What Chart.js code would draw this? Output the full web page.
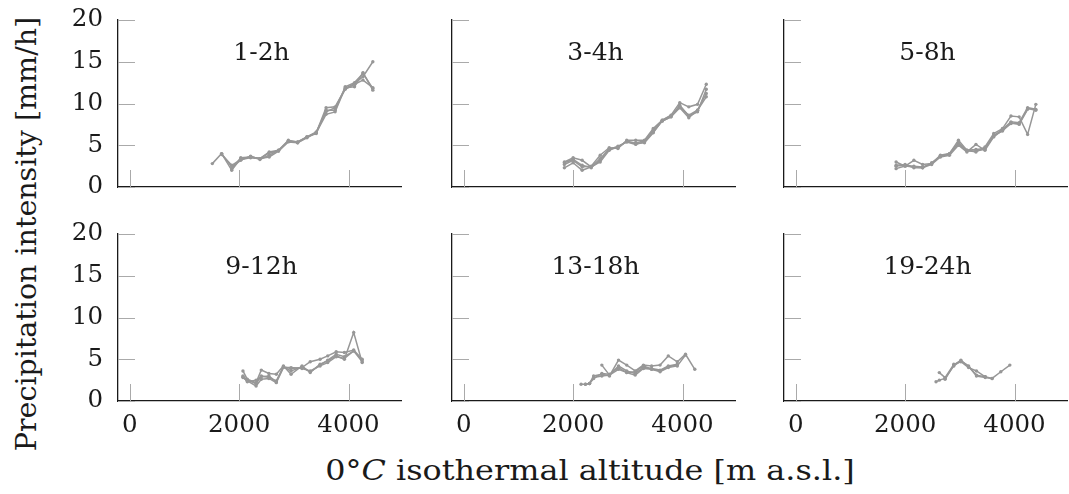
<!DOCTYPE html>
<html>
<head>
<meta charset="utf-8">
<script src="https://cdn.jsdelivr.net/npm/chart.js@4.4.1/dist/chart.umd.min.js"></script>
<style>
  html, body { margin: 0; padding: 0; background: #fff; }
  #wrap { position: relative; width: 1069px; height: 494px; overflow: hidden; font-family: "DejaVu Serif", serif; color: #1a1a1a; }
  #wrap canvas { position: absolute; }
  .axis-title { position: absolute; white-space: nowrap; line-height: 1; }
  #ytitle { font-size: 28.5px; left: 27px; top: 234px; transform: translate(-50%, -50%) rotate(-90deg); }
  #xtitle { font-size: 27px; left: 590px; top: 470px; transform: translate(-50%, -50%) scaleX(1.18); }
</style>
</head>
<body>
<div id="wrap">
  <div class="axis-title" id="ytitle">Precipitation intensity [mm/h]</div>
  <div class="axis-title" id="xtitle">0°<i>C</i> isothermal altitude [m a.s.l.]</div>
</div>
<script>
const panelNames = ["1-2h", "3-4h", "5-8h", "9-12h", "13-18h", "19-24h"];
const xTickValues = [0, 2000, 4000];
const yTickValues = [0, 5, 10, 15, 20];

// 1-2h
const alt12 = [1510, 1680, 1865, 2030, 2210, 2380, 2550, 2720, 2900, 3070, 3240, 3410, 3590, 3755, 3940, 4110, 4265, 4445];
const p12a = [2.8, 4.0, 2.0, 3.4, 3.6, 3.4, 3.6, 4.3, 5.5, 5.3, 5.9, 6.5, 8.7, 9.0, 11.9, 12.0, 13.7, 11.6];
const p12b = [null, 4.0, 2.4, 3.2, 3.7, 3.3, 3.8, 4.4, 5.5, 5.4, 6.0, 6.5, 9.5, 9.6, 11.8, 12.4, 13.2, 15.0];
const p12c = [null, 3.9, 2.6, 3.3, 3.5, 3.4, 4.1, 4.3, 5.4, 5.3, 6.0, 6.4, 9.2, 9.2, 12.0, 12.5, 13.6, 11.8];
const p12d = [null, null, 2.2, 3.5, 3.6, 3.4, 4.2, 4.4, 5.6, 5.4, 6.0, 6.6, 9.0, 9.5, 11.7, 12.3, 12.8, 11.9];

// 3-4h
const alt34 = [1840, 2000, 2165, 2330, 2495, 2660, 2820, 2980, 3145, 3305, 3465, 3630, 3790, 3950, 4115, 4275, 4435];
const p34a = [3.0, 3.5, 3.2, 2.4, 3.0, 4.4, 4.8, 5.4, 5.1, 5.4, 6.6, 7.9, 8.4, 9.5, 8.3, 9.2, 10.8];
const p34b = [2.7, 3.2, 2.4, 2.5, 3.8, 4.7, 4.6, 5.6, 5.6, 5.6, 7.0, 8.0, 8.6, 10.1, 9.6, 9.9, 12.3];
const p34c = [2.3, 2.9, 2.0, 2.4, 3.4, 4.5, 4.9, 5.4, 5.3, 5.5, 6.8, 7.9, 8.4, 9.8, 8.5, 9.0, 11.7];
const p34d = [2.9, 3.3, 2.6, 2.3, 3.2, 4.6, 4.7, 5.5, 5.2, 5.3, 6.5, 8.0, 8.5, 9.6, 8.6, 9.2, 11.2];

// 5-8h
const alt58 = [1835, 2000, 2160, 2320, 2485, 2645, 2810, 2975, 3130, 3295, 3460, 3620, 3780, 3935, 4085, 4240, 4390];
const p58a = [3.0, 2.5, 3.2, 2.7, 2.8, 3.8, 4.0, 5.6, 4.4, 4.2, 4.8, 6.4, 7.0, 8.5, 8.4, 6.3, 9.9];
const p58b = [2.6, 2.7, 2.3, 2.3, 2.7, 3.6, 3.8, 5.0, 4.2, 5.1, 4.4, 6.0, 6.8, 7.6, 7.6, 9.4, 9.2];
const p58c = [2.2, 2.5, 2.4, 2.3, 2.9, 3.7, 3.9, 5.2, 4.3, 4.3, 4.5, 6.2, 6.7, 7.7, 7.5, 9.3, null];
const p58d = [2.5, 2.6, 2.5, 2.4, 2.8, 3.7, 4.0, 5.3, 4.4, 4.5, 4.6, 6.1, 6.9, 7.8, 7.7, 9.5, 9.3];

// 9-12h
const alt912 = [2070, 2150, 2310, 2405, 2545, 2680, 2810, 2950, 3150, 3300, 3480, 3620, 3775, 3925, 4095, 4250];
const p912a = [3.6, 2.6, 2.2, 3.7, 3.3, 3.2, 4.2, 3.2, 4.2, 3.4, 4.4, 4.8, 5.4, 5.0, 8.2, 4.6];
const p912b = [2.8, 2.4, 1.8, 2.6, 2.7, 2.2, 4.0, 4.0, 3.9, 3.6, 4.2, 4.6, 5.3, 5.1, 6.0, 4.9];
const p912c = [2.9, 2.3, 2.5, 2.9, 3.0, 2.3, 4.1, 3.9, 4.0, 4.7, 5.0, 5.4, 5.9, 5.8, 6.1, 5.0];
const p912d = [3.0, 2.5, 2.1, 3.0, 2.8, 2.4, 4.1, 3.6, 4.1, 3.5, 4.3, 4.9, 5.6, 5.3, 6.0, 4.7];

// 13-18h
const alt1318 = [2145, 2225, 2300, 2375, 2525, 2665, 2830, 2980, 3135, 3285, 3435, 3590, 3740, 3905, 4055, 4225];
const p1318a = [2.0, 2.0, 2.1, 3.0, 3.2, 3.0, 4.9, 4.3, 3.6, 4.3, 4.2, 4.3, 5.4, 4.7, 5.6, 3.8];
const p1318b = [null, 2.0, 2.1, 2.7, 3.3, 3.2, 4.0, 3.4, 3.1, 3.9, 3.8, 3.5, 4.0, 4.2, 5.5, null];
const p1318c = [null, null, null, null, 4.3, 3.1, 3.8, 3.4, 3.5, 4.2, 3.8, 3.6, 4.1, 4.3, null, null];
const p1318d = [null, null, 2.1, 2.8, 3.0, 3.1, 4.2, 3.6, 3.3, 4.0, 3.9, 3.7, 4.2, 4.4, null, null];

// 19-24h
const alt1924 = [2565, 2625, 2730, 2890, 3020, 3160, 3305, 3465, 3590, 3750, 3915];
const p1924a = [2.3, 2.5, 2.7, 4.2, 4.8, 4.2, 3.0, 2.8, 2.7, 3.5, 4.3];
const p1924b = [null, 3.4, 2.8, 4.4, 4.7, 4.0, 3.6, 2.9, null, null, null];
const p1924c = [null, null, 2.6, 4.3, 4.9, 4.1, 3.1, 2.9, 2.7, null, null];

const panelAlts = [alt12, alt34, alt58, alt912, alt1318, alt1924];
const panelSeries = [
  [p12a, p12b, p12c, p12d],
  [p34a, p34b, p34c, p34d],
  [p58a, p58b, p58c, p58d],
  [p912a, p912b, p912c, p912d],
  [p1318a, p1318b, p1318c, p1318d],
  [p1924a, p1924b, p1924c],
];

const FONT = "DejaVu Serif";
const INK = "#1a1a1a";
const LINE = "#979797";

// plot area of each panel on the page
const colLeft = [118, 452, 784];
const rowTop = [20, 234];
const areaW = 283;
const areaH = 167;
const padL = 60, padR = 10, padT = 15, padB = 45;

// short grey tick marks pointing into the plot area
const innerTicks = {
  id: "innerTicks",
  beforeDatasetsDraw(chart) {
    const { ctx, chartArea: a, scales } = chart;
    ctx.save();
    ctx.strokeStyle = "#aaaaaa";
    ctx.lineWidth = 1;
    ctx.beginPath();
    for (const t of scales.y.ticks) {
      const py = Math.round(scales.y.getPixelForValue(t.value)) + 0.5;
      ctx.moveTo(a.left, py);
      ctx.lineTo(a.left + 17, py);
    }
    for (const t of scales.x.ticks) {
      const px = Math.round(scales.x.getPixelForValue(t.value)) + 0.5;
      ctx.moveTo(px, a.bottom);
      ctx.lineTo(px, a.bottom - 17);
    }
    ctx.stroke();
    ctx.restore();
  },
};

// duration label inside each panel
const panelTitle = {
  id: "panelTitle",
  afterDraw(chart, args, opts) {
    const { ctx, chartArea: a } = chart;
    ctx.save();
    ctx.font = `25px "${FONT}"`;
    ctx.fillStyle = INK;
    ctx.textAlign = "center";
    ctx.textBaseline = "middle";
    ctx.fillText(opts.text, (a.left + a.right) / 2 + 2, a.top + 0.2 * (a.bottom - a.top));
    ctx.restore();
  },
};

function fixSize(prop, size) {
  return (s) => {
    s[prop] = size;
    s.paddingLeft = 0;
    s.paddingRight = 0;
    s.paddingTop = 0;
    s.paddingBottom = 0;
  };
}

function renderPanel(i) {
  const row = Math.floor(i / 3);
  const col = i % 3;
  const canvas = document.createElement("canvas");
  const w = areaW + padL + padR;
  const h = areaH + padT + padB;
  canvas.width = w;
  canvas.height = h;
  canvas.style.width = w + "px";
  canvas.style.height = h + "px";
  canvas.style.left = colLeft[col] - padL + "px";
  canvas.style.top = rowTop[row] - padT + "px";
  document.getElementById("wrap").appendChild(canvas);

  const alts = panelAlts[i];
  const datasets = panelSeries[i].map((s) => ({
    data: alts.map((x, k) => ({ x, y: s[k] })),
    borderColor: LINE,
    backgroundColor: LINE,
    borderWidth: 1.5,
    pointRadius: 1.7,
    pointBorderWidth: 0,
    tension: 0,
    spanGaps: false,
  }));

  new Chart(canvas, {
    type: "line",
    data: { datasets },
    options: {
      responsive: false,
      animation: false,
      events: [],
      layout: { padding: { top: padT, right: padR, left: 0, bottom: 0 } },
      plugins: {
        legend: { display: false },
        tooltip: { enabled: false },
        panelTitle: { text: panelNames[i] },
      },
      scales: {
        x: {
          type: "linear",
          min: -215,
          max: 4960,
          afterBuildTicks: (s) => { s.ticks = xTickValues.map((v) => ({ value: v })); },
          afterFit: fixSize("height", padB),
          grid: { display: false, drawTicks: false },
          border: { display: true, color: INK, width: 1.3 },
          ticks: {
            display: row === 1,
            padding: 10,
            color: INK,
            maxRotation: 0,
            font: { family: FONT, size: 24.5 },
            callback: (v) => String(v),
          },
        },
        y: {
          type: "linear",
          min: 0,
          max: 20,
          afterBuildTicks: (s) => { s.ticks = yTickValues.map((v) => ({ value: v })); },
          afterFit: fixSize("width", padL),
          grid: { display: false, drawTicks: false },
          border: { display: true, color: INK, width: 1.3 },
          ticks: {
            display: col === 0,
            padding: 15,
            color: INK,
            font: { family: FONT, size: 24.5 },
            callback: (v) => String(v),
          },
        },
      },
    },
    plugins: [innerTicks, panelTitle],
  });
}

function main() {
  for (let i = 0; i < panelNames.length; i++) renderPanel(i);
}

document.addEventListener("DOMContentLoaded", () => main());
</script>
</body>
</html>
